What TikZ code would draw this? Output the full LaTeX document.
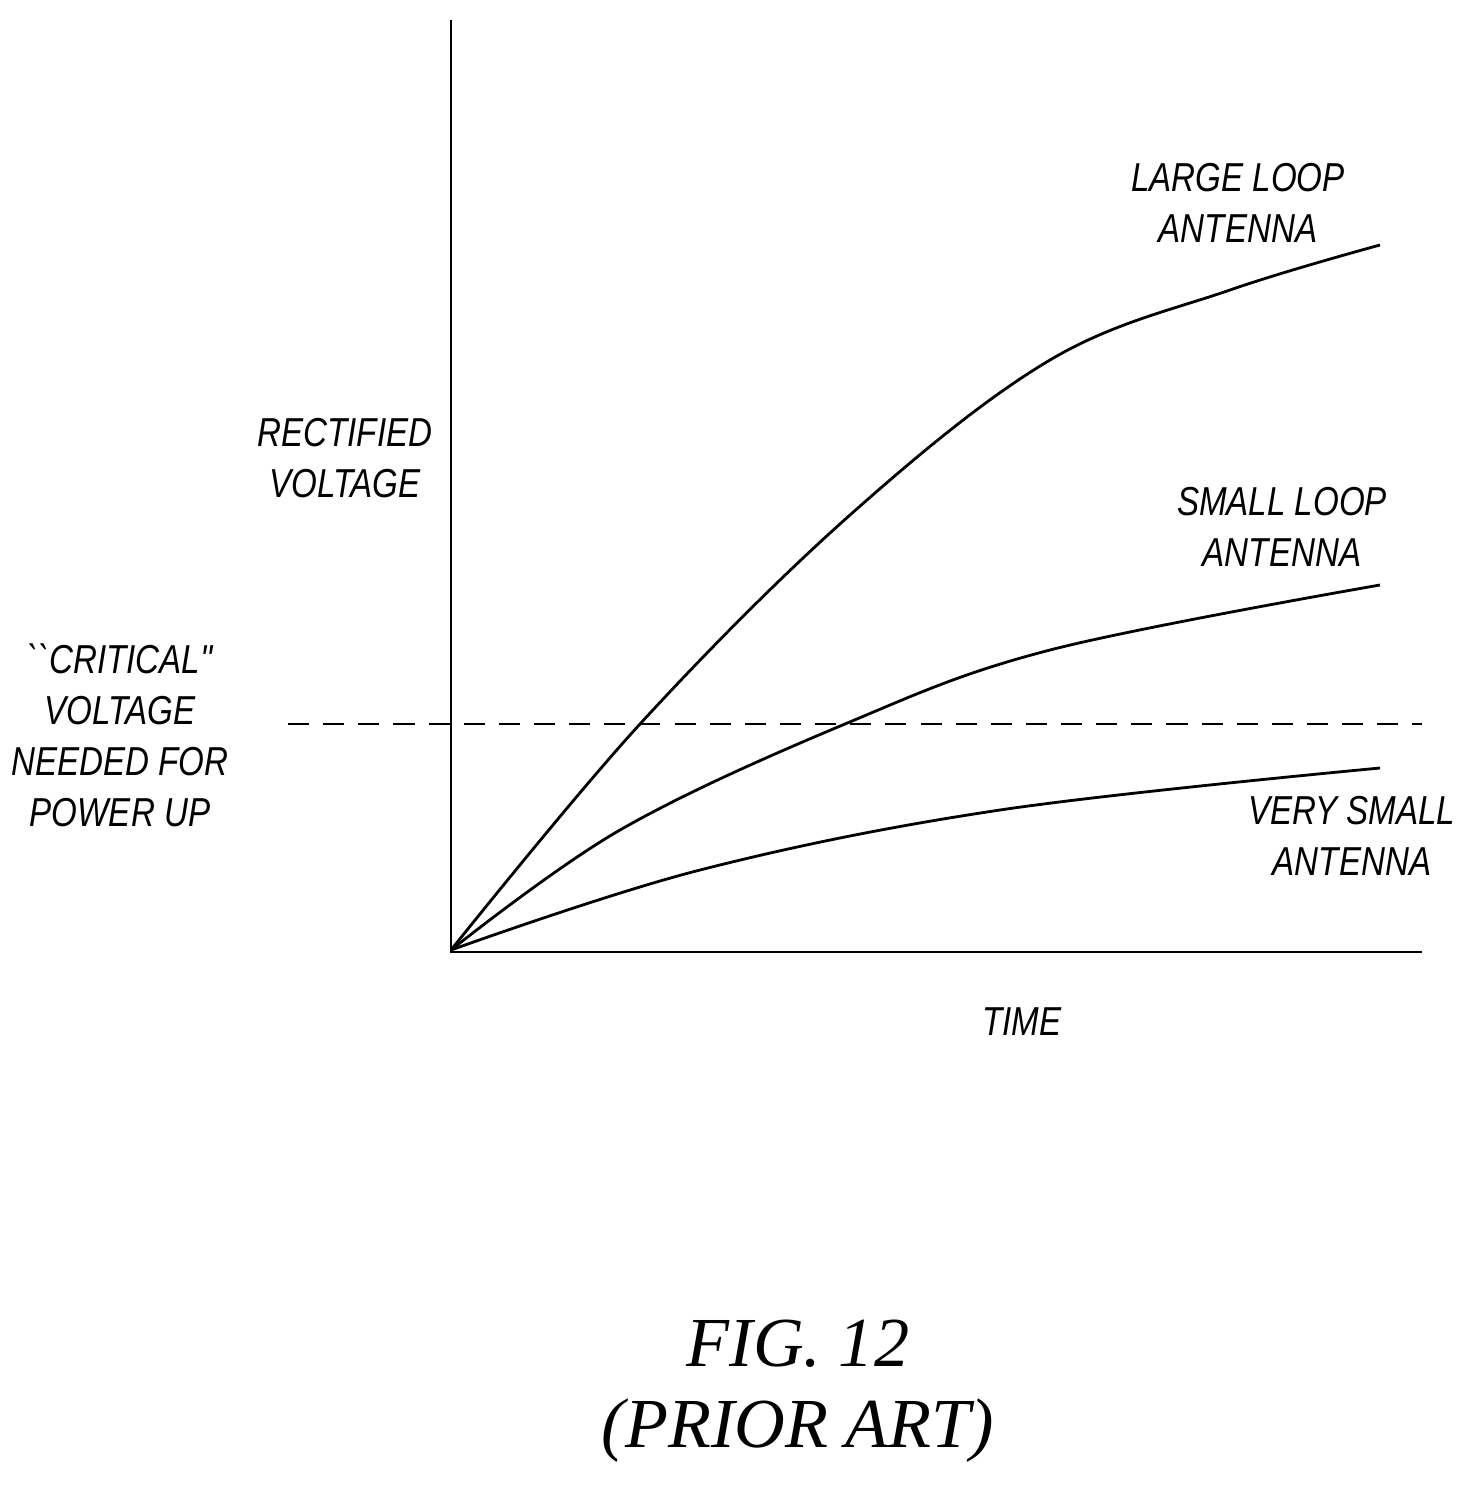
\documentclass[tikz,border=0pt]{standalone}
\usepackage{fontspec}
\usepackage{tikz}
\newfontfamily\narrowsans[FakeStretch=0.82]{Liberation Sans}
\newfontfamily\figserif{Liberation Serif}

\begin{document}
\begin{tikzpicture}[x=0.02cm, y=-0.02cm, line width=1.6pt,
  lbl/.style={align=center, font={\narrowsans\itshape\fontsize{23}{29}\selectfont}},
  figlbl/.style={align=center, font={\figserif\itshape\fontsize{40}{46}\selectfont}}]
  \useasboundingbox (0, 0) rectangle (1468, 1487);

  % axes
  \coordinate (orig) at (451, 952);
  \coordinate (ytop) at (451, 20);
  \coordinate (xend) at (1422, 952);
  \draw (ytop) -- (orig) -- (xend);

  % critical level
  \coordinate (crita) at (288, 724);
  \coordinate (critb) at (1422, 724);
  \draw [dashed, dash pattern=on 12pt off 8pt] (crita) -- (critb);

  % curves
  \draw plot [smooth, tension=0.6] coordinates {(451, 950) (640, 724) (850, 515) (1050, 360) (1230, 290) (1380, 245)};
  \draw plot [smooth, tension=0.6] coordinates {(451, 950) (620, 830) (845, 724) (1050, 650) (1380, 585)};
  \draw plot [smooth, tension=0.6] coordinates {(451, 950) (700, 870) (1000, 810) (1380, 768)};

  % labels
  \node [lbl] (large) at (1238, 203) {LARGE LOOP\\ANTENNA};
  \node [lbl] (small) at (1282, 527) {SMALL LOOP\\ANTENNA};
  \node [lbl] (vsmall) at (1352, 836) {VERY SMALL\\ANTENNA};
  \node [lbl] (rect) at (345, 458) {RECTIFIED\\VOLTAGE};
  \node [lbl] (crit) at (120, 735) {``CRITICAL''\\VOLTAGE\\NEEDED FOR\\POWER UP};
  \node [lbl] (time) at (1022, 1022) {TIME};

  \node [figlbl] (fig) at (798, 1391) {FIG. 12\\(PRIOR ART)};
\end{tikzpicture}
\end{document}
